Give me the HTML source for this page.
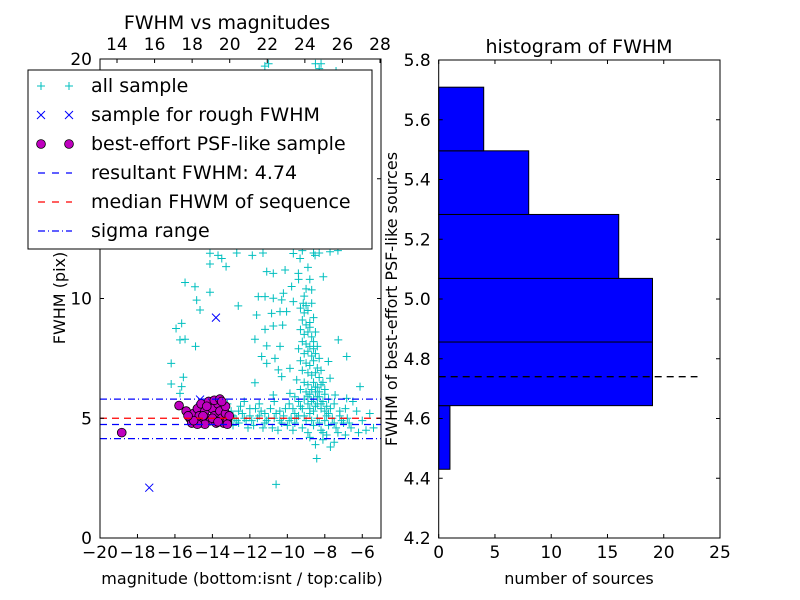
<!DOCTYPE html>
<html><head><meta charset="utf-8">
<style>
html,body{margin:0;padding:0;background:#fff;}
svg{display:block;font-family:"DejaVu Sans","Liberation Sans",sans-serif;}
</style></head>
<body>
<svg id="fig" width="800" height="600" viewBox="0 0 800 600" xmlns="http://www.w3.org/2000/svg">
<rect width="800" height="600" fill="#fff"/>
<g id="left"></g>
<g id="right"></g>
</svg>
<script>
// ---- data ----
const allSample = [
[-11.2,19.7],[-11.0,19.8],[-8.5,19.8],[-8.3,19.6],[-8.2,19.8],[-7.4,19.5],
[-12.7,11.9],[-11.3,11.9],[-9.2,12.0],[-8.6,11.9],[-8.3,11.9],[-7.3,12.0],[-13.7,11.8],
[-14.13,11.89],[-14.13,11.44],[-13.5,11.67],[-13.27,11.33],[-11.87,11.8],[-15.46,10.67],[-14.93,10.49],
[-14.13,10.26],[-14.84,9.93],[-14.66,9.52],[-15.64,8.96],[-15.94,8.75],[-15.73,8.27],[-15.46,8.3],
[-14.9,8.0],[-16.2,7.29],[-15.55,6.71],[-16.2,6.43],[-15.64,6.32],[-15.73,6.04],[-12.62,9.69],
[-11.64,9.31],[-11.1,11.12],[-10.75,11.05],[-10.12,11.19],[-9.68,11.88],[-9.32,11.67],[-8.52,11.8],
[-7.72,11.95],[-9.41,11.05],[-8.08,10.91],[-11.55,10.08],[-11.19,10.08],[-10.75,10.01],[-10.3,9.94],
[-9.77,10.5],[-10.21,10.22],[-8.7,10.36],[-9.68,9.87],[-9.15,9.8],[-10.84,9.38],[-10.39,9.45],
[-10.04,9.45],[-11.19,8.71],[-10.75,8.85],[-10.25,8.89],[-11.73,8.3],[-11.1,8.02],[-10.39,8.0],
[-11.37,7.58],[-10.66,7.5],[-11.1,7.29],[-10.48,7.02],[-9.86,7.08],[-11.73,6.48],[-10.3,6.74],
[-10.75,5.97],[-9.86,6.04],[-7.28,8.27],[-6.83,7.58],[-7.81,7.37],[-7.72,6.67],[-7.45,5.97],
[-6.83,5.83],[-6.12,6.32],[-8.43,3.32],[-10.6,2.24],
[-9.3,9.6],[-9.1,9.4],[-8.9,9.5],[-9.2,9.1],[-9.0,8.9],[-8.8,9.0],[-9.3,8.7],[-9.1,8.5],[-8.9,8.6],
[-8.7,8.4],[-9.2,8.2],[-9.0,8.1],[-8.8,8.0],[-8.6,8.2],[-9.4,7.9],[-9.1,7.7],[-8.9,7.8],[-8.7,7.6],
[-8.5,7.7],[-9.3,7.4],[-9.0,7.3],[-8.8,7.2],[-8.6,7.4],[-8.4,7.1],[-9.2,7.0],[-8.9,6.9],[-8.7,6.8],
[-8.5,6.9],[-8.3,6.7],[-9.5,6.6],[-9.1,6.5],[-8.9,6.4],[-8.6,6.5],[-8.4,6.3],[-8.2,6.4],[-9.3,6.2],
[-9.0,6.1],[-8.8,6.0],[-8.5,6.1],[-8.3,5.9],[-8.0,6.0],[-9.6,5.9],[-9.4,5.7],[-9.1,5.8],[-8.9,5.6],
[-8.7,5.7],[-8.4,5.6],[-8.1,5.7],[-7.9,5.5],[-9.7,5.4],[-9.2,5.4],[-8.6,5.3],[-8.2,5.4],[-7.8,5.2],
[-8.5,3.9],[-8.1,4.1],[-7.7,3.8],[-7.5,4.0],[-8.8,4.2],[-7.9,4.3],[-6.9,4.3],[-5.8,4.5],[-5.4,4.6],
[-13.0,5.3],[-12.8,5.0],[-12.6,4.8],[-12.4,5.2],[-12.2,4.9],[-12.0,5.1],[-11.8,4.7],[-11.6,5.0],
[-11.4,5.3],[-11.2,4.8],[-11.0,5.0],[-10.8,4.6],[-10.6,5.2],[-10.4,4.9],[-10.2,5.1],[-10.0,4.7],
[-9.8,5.0],[-9.6,4.8],[-9.4,5.1],[-9.2,4.6],[-9.0,4.9],[-8.8,5.2],[-8.6,4.7],[-8.4,5.0],[-8.2,4.5],
[-8.0,4.9],[-7.8,4.7],[-7.6,5.0],[-7.4,4.6],[-7.2,5.1],[-7.0,4.8],[-6.8,5.0],[-6.6,4.6],[-6.3,5.3],
[-6.0,4.9],[-5.6,5.2],[-12.9,4.7],[-12.5,5.5],[-12.1,4.6],[-11.7,5.4],[-11.3,4.6],[-10.9,5.4],
[-10.5,4.5],[-10.1,5.4],[-9.7,4.5],[-9.3,5.5],[-8.9,4.4],[-8.5,5.5],[-8.1,4.4],[-7.7,5.4],[-7.3,4.4],
[-6.9,5.4],[-13.2,5.6],[-12.3,5.7],[-11.5,5.6],[-10.7,5.7],[-9.9,5.6],[-7.5,5.6],[-6.5,5.7],[-6.2,4.4],
[-12.9,5.1],[-12.7,4.9],[-12.3,5.0],[-11.9,4.9],[-11.5,5.1],[-11.1,4.9],[-10.7,5.0],[-10.3,4.8],
[-9.9,4.9],[-9.5,5.0],[-9.1,5.1],[-8.7,4.9],[-8.3,4.8],[-7.9,5.1],[-7.5,4.8],[-7.1,4.9],[-6.7,4.8],
[-12.6,5.3],[-12.0,5.4],[-11.2,5.2],[-10.4,5.3],[-9.6,5.2],[-8.8,5.4],[-8.0,5.3],[-7.2,5.3],
[-9.0,10.4],[-8.8,10.8],[-8.9,11.3],[-8.7,9.8],[-9.1,10.1],[-8.6,9.2],[-8.5,8.6],[-8.4,8.0],
[-8.3,7.5],[-8.2,7.0],[-8.1,6.5],[-8.0,6.2],[-8.6,7.9],[-8.8,8.8],[-9.0,9.7],[-9.4,10.8],
[-8.5,6.3],[-8.7,6.2],[-8.3,6.1],[-8.9,5.9],[-8.6,5.8],[-8.4,5.9],[-7.8,5.8],[-8.2,5.6]
];
const roughSample = [[-17.37,2.1],[-13.81,9.2],[-14.66,5.78],[-14.2,5.1],[-13.6,4.9]];
const psfSample = [
[-18.84,4.4],[-15.78,5.53],[-15.4,5.3],[-15.2,5.0],[-15.0,5.2],[-15.1,4.8],[-14.8,5.4],[-14.9,4.9],
[-14.6,5.6],[-14.7,5.1],[-14.5,4.8],[-14.4,5.3],[-14.3,5.0],[-14.2,5.7],[-14.1,4.9],[-14.0,5.4],
[-13.9,5.1],[-13.8,4.8],[-13.7,5.6],[-13.6,5.3],[-13.5,5.0],[-13.4,4.8],[-13.3,5.2],[-13.9,5.75],
[-13.6,5.8],[-14.4,4.75],[-13.2,4.9],[-14.8,4.75],[-14.0,5.0],[-13.7,4.85],[-15.0,4.9],[-14.5,5.1],
[-13.3,5.5],[-13.1,5.1],[-13.2,4.75],[-13.5,5.7],[-15.3,5.1],[-14.3,5.5]
];
const resultFwhm = 4.74;
const medianFwhm = 5.0;
const sigmaRange = [4.15, 5.8];
const binEdges = [4.43,4.643,4.856,5.069,5.283,5.496,5.709];
const binCounts = [1,19,19,16,8,4];
const xTicksBottom = [-20,-18,-16,-14,-12,-10,-8,-6];
const xTicksTop = [14,16,18,20,22,24,26,28];
const yTicksLeft = [0,5,10,15,20];
const histYTicks = [4.2,4.4,4.6,4.8,5.0,5.2,5.4,5.6,5.8];
const histXTicks = [0,5,10,15,20,25];

// ---- helpers ----
const NS='http://www.w3.org/2000/svg';
function mk(parent,tag,attrs,text){const e=document.createElementNS(NS,tag);for(const k in attrs)e.setAttribute(k,attrs[k]);if(text!==undefined)e.textContent=text;parent.appendChild(e);return e;}

// ---- left panel ----
const L=document.getElementById('left');
const lx0=100,lx1=381,ly0=59,ly1=538;
const xs=v=>lx0+(v-(-20))/15*(lx1-lx0);
const xsTop=v=>117+(v-14)/14*(380-117);
const ys=v=>ly1-(v/20)*(ly1-ly0);
const clip=mk(L,'clipPath',{id:'lclip'});mk(clip,'rect',{x:lx0,y:ly0,width:lx1-lx0,height:ly1-ly0});
const pts=mk(L,'g',{'clip-path':'url(#lclip)'});


allSample.forEach(p=>{const x=xs(p[0]),y=ys(p[1]);
 const g=mk(pts,'path',{d:`M${x-4},${y}H${x+4}M${x},${y-4}V${y+4}`,stroke:'#00bfbf','stroke-width':1});
 
 });
roughSample.forEach(p=>{const x=xs(p[0]),y=ys(p[1]);
 const g=mk(pts,'path',{d:`M${x-4},${y-4}L${x+4},${y+4}M${x-4},${y+4}L${x+4},${y-4}`,stroke:'#0000ff','stroke-width':1});
 
 });
psfSample.forEach(p=>{const c=mk(pts,'circle',{cx:xs(p[0]),cy:ys(p[1]),r:4.4,fill:'#bf00bf',stroke:'#000','stroke-width':0.8});
 
 });
function hline(v,color,dash,name){const l=mk(L,'line',{x1:lx0,x2:lx1,y1:ys(v),y2:ys(v),stroke:color,'stroke-width':1.3,'stroke-dasharray':dash});
 
 }
hline(medianFwhm,'#ff0000','7 5','median-line');
hline(resultFwhm,'#0000ff','7 5','resultant-fwhm-line');
hline(sigmaRange[0],'#0000ff','7 3 1 3','sigma-low-line');
hline(sigmaRange[1],'#0000ff','7 3 1 3','sigma-high-line');
mk(L,'rect',{x:lx0,y:ly0,width:lx1-lx0,height:ly1-ly0,fill:'none',stroke:'#000','stroke-width':1});
xTicksBottom.forEach(v=>{const x=xs(v);mk(L,'line',{x1:x,x2:x,y1:ly1,y2:ly1-4,stroke:'#000'});
 const t=mk(L,'text',{x:x,y:ly1+20,'text-anchor':'middle','font-size':17},(v<0?'\u2212':'')+Math.abs(v));
 
 });
xTicksTop.forEach(v=>{const x=xsTop(v);mk(L,'line',{x1:x,x2:x,y1:ly0,y2:ly0+4,stroke:'#000'});
 const t=mk(L,'text',{x:x,y:ly0-9,'text-anchor':'middle','font-size':17},v);
 
 });
yTicksLeft.forEach(v=>{const y=ys(v);mk(L,'line',{x1:lx0,x2:lx0+4,y1:y,y2:y,stroke:'#000'});mk(L,'line',{x1:lx1,x2:lx1-4,y1:y,y2:y,stroke:'#000'});
 const t=mk(L,'text',{x:lx0-8,y:y+6,'text-anchor':'end','font-size':17},v);
 
 });
</script>
<script>
// legend + labels (left)
(function(){
const L=document.getElementById('left');
const NS='http://www.w3.org/2000/svg';
function mk(parent,tag,attrs,text){const e=document.createElementNS(NS,tag);for(const k in attrs)e.setAttribute(k,attrs[k]);if(text!==undefined)e.textContent=text;parent.appendChild(e);return e;}
const t1=mk(L,'text',{x:227,y:29,'text-anchor':'middle','font-size':19},'FWHM vs magnitudes');


const t2=mk(L,'text',{x:242,y:584,'text-anchor':'middle','font-size':16},'magnitude (bottom:isnt / top:calib)');


const t3=mk(L,'text',{x:0,y:0,'text-anchor':'middle','font-size':16,transform:'translate(65,298) rotate(-90)'},'FWHM (pix)');


const lg=mk(L,'g',{});


mk(lg,'rect',{x:28,y:70,width:344,height:179,fill:'#fff',stroke:'#000','stroke-width':1});
const labels=['all sample','sample for rough FWHM','best-effort PSF-like sample','resultant FWHM: 4.74','median FHWM of sequence','sigma range'];
labels.forEach((s,i)=>{const y=86+i*29;
 const m1=41,m2=69;
 if(i===0){[m1,m2].forEach(x=>mk(lg,'path',{d:`M${x-4},${y}H${x+4}M${x},${y-4}V${y+4}`,stroke:'#00bfbf'}));}
 if(i===1){[m1,m2].forEach(x=>mk(lg,'path',{d:`M${x-4},${y-4}L${x+4},${y+4}M${x-4},${y+4}L${x+4},${y-4}`,stroke:'#0000ff'}));}
 if(i===2){[m1,m2].forEach(x=>mk(lg,'circle',{cx:x,cy:y,r:4.4,fill:'#bf00bf',stroke:'#000','stroke-width':0.8}));}
 if(i===3)mk(lg,'line',{x1:38,x2:72,y1:y,y2:y,stroke:'#0000ff','stroke-width':1.3,'stroke-dasharray':'7 7'});
 if(i===4)mk(lg,'line',{x1:38,x2:72,y1:y,y2:y,stroke:'#ff0000','stroke-width':1.3,'stroke-dasharray':'7 7'});
 if(i===5)mk(lg,'line',{x1:38,x2:72,y1:y,y2:y,stroke:'#0000ff','stroke-width':1.3,'stroke-dasharray':'7 3 1 3'});
 const t=mk(lg,'text',{x:91,y:y+6,'font-size':19},s);
 
 });
})();

// ---- right panel ----
const R=document.getElementById('right');
const rx0=438.7,rx1=720,ry0=60,ry1=538;
const hx=v=>rx0+v/25*(rx1-rx0);
const hy=v=>ry1-(v-4.2)/1.6*(ry1-ry0);
binCounts.forEach((c,i)=>{const yT=hy(binEdges[i+1]),yB=hy(binEdges[i]);
 const r=mk(R,'rect',{x:hx(0),y:yT,width:hx(c)-hx(0),height:yB-yT,fill:'#0000ff',stroke:'#000','stroke-width':1});
 
 });
const dl=mk(R,'line',{x1:hx(0),x2:hx(23),y1:hy(resultFwhm),y2:hy(resultFwhm),stroke:'#000','stroke-width':1.3,'stroke-dasharray':'7 5'});


mk(R,'rect',{x:rx0,y:ry0,width:rx1-rx0,height:ry1-ry0,fill:'none',stroke:'#000','stroke-width':1});
histYTicks.forEach(v=>{const y=hy(v);mk(R,'line',{x1:rx0,x2:rx0+4,y1:y,y2:y,stroke:'#000'});mk(R,'line',{x1:rx1,x2:rx1-4,y1:y,y2:y,stroke:'#000'});
 const t=mk(R,'text',{x:rx0-8,y:y+6,'text-anchor':'end','font-size':17},v.toFixed(1));
 
 });
histXTicks.forEach(v=>{const x=hx(v);mk(R,'line',{x1:x,x2:x,y1:ry1,y2:ry1-4,stroke:'#000'});mk(R,'line',{x1:x,x2:x,y1:ry0,y2:ry0+4,stroke:'#000'});
 const t=mk(R,'text',{x:x,y:ry1+20,'text-anchor':'middle','font-size':17},v);
 
 });
const ht=mk(R,'text',{x:579,y:53,'text-anchor':'middle','font-size':19},'histogram of FWHM');


const hxl=mk(R,'text',{x:579,y:584,'text-anchor':'middle','font-size':16},'number of sources');


const hyl=mk(R,'text',{x:0,y:0,'text-anchor':'middle','font-size':16,transform:'translate(397,299) rotate(-90)'},'FWHM of best-effort PSF-like sources');


</script>
</body></html>
